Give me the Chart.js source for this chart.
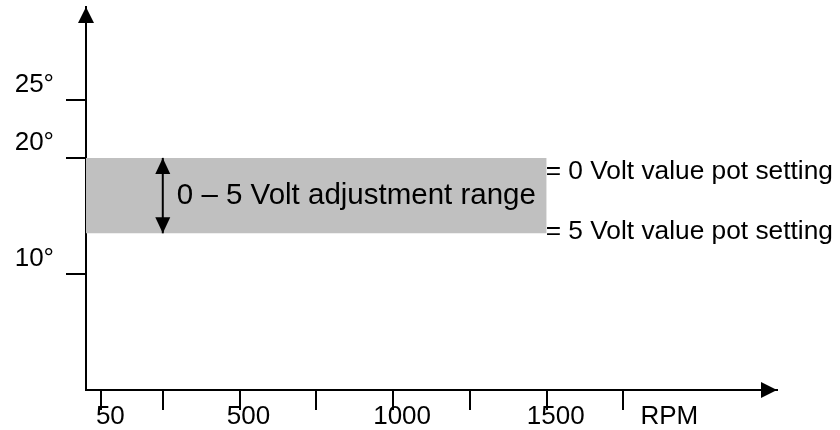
<!DOCTYPE html>
<html lang="en">
<head>
<meta charset="UTF-8">
<title>0 – 5 Volt adjustment range</title>
<script src="https://cdn.jsdelivr.net/npm/chart.js@4"></script>
<style>
  html, body { margin: 0; padding: 0; background: #fff; }
  #wrap { width: 840px; height: 430px; position: relative; }
</style>
</head>
<body>
<div id="wrap"><canvas id="chart"></canvas></div>
<script>
// x axis (RPM)
const xTicks = [50, 250, 500, 750, 1000, 1250, 1500, 1750];
const xTickLabels = ['50', '', '500', '', '1000', '', '1500', ''];
const xUnit = 'RPM';
const xUnitAt = 1870;
const xMax = 2250;

// y axis (degrees)
const yTicks = [10, 20, 25];
const yTickLabels = ['10°', '20°', '25°'];
const yMax = 33;

// grey band = adjustment range
const bandRpm = [0, 1500];
const bandTop = [20, 20];
const bandBottom = [13.5, 13.5];

// double arrow inside the band
const arrowRpm = [250, 250];
const arrowDeg = [20, 13.5];

const bandLabel = '0 – 5 Volt adjustment range';
const topLabel = '= 0 Volt value pot setting';
const bottomLabel = '= 5 Volt value pot setting';

const FONT = "'Liberation Sans', Arial, sans-serif";

// filled triangle, tip at (tx, ty), pointing along (dx, dy)
function tri(ctx, tx, ty, dx, dy, len, half) {
    const bx = tx - dx * len, by = ty - dy * len;
    ctx.beginPath();
    ctx.moveTo(tx, ty);
    ctx.lineTo(bx - dy * half, by + dx * half);
    ctx.lineTo(bx + dy * half, by - dx * half);
    ctx.closePath();
    ctx.fill();
}

const decor = {
    id: 'decor',
    afterDatasetsDraw(chart) {
        const { ctx, scales: { x, y } } = chart;
        const pts = chart.getDatasetMeta(2).data;
        const p0 = pts[0], p1 = pts[pts.length - 1];
        ctx.save();
        ctx.fillStyle = '#000';
        tri(ctx, p0.x, p0.y, 0, -1, 16, 7.5);
        tri(ctx, p1.x, p1.y, 0, 1, 16, 7.5);

        ctx.textBaseline = 'middle';
        ctx.textAlign = 'left';
        ctx.font = '29.5px ' + FONT;
        ctx.fillText(bandLabel, p0.x + 14, (p0.y + p1.y) / 2);

        ctx.font = '26.3px ' + FONT;
        const xr = x.getPixelForValue(bandRpm[1]);
        ctx.fillText(topLabel, xr - 1, y.getPixelForValue(bandTop[1]) + 14);
        ctx.fillText(bottomLabel, xr - 1, y.getPixelForValue(bandBottom[1]) - 2);
        ctx.restore();
    },
    afterDraw(chart) {
        const { ctx, chartArea: a } = chart;
        ctx.save();
        ctx.fillStyle = '#000';
        tri(ctx, a.left, a.top, 0, -1, 16, 8);      // y arrow
        tri(ctx, a.right, a.bottom, 1, 0, 16, 8);   // x arrow
        ctx.restore();
    }
};

const axisGrid = {
    drawOnChartArea: false,
    drawTicks: true,
    tickLength: 20,
    lineWidth: 2,
    color: '#000'
};

// no extra room for overhanging labels, the layout is fixed
function noPad(s) {
    s.paddingTop = s.paddingBottom = s.paddingLeft = s.paddingRight = 0;
}

new Chart(document.getElementById('chart'), {
    type: 'line',
    data: {
        datasets: [
            {
                data: bandRpm.map((v, i) => ({ x: v, y: bandTop[i] })),
                fill: '+1',
                backgroundColor: '#c0c0c0',
                borderWidth: 0,
                pointRadius: 0,
                order: 1
            },
            {
                data: bandRpm.map((v, i) => ({ x: v, y: bandBottom[i] })),
                fill: false,
                borderWidth: 0,
                pointRadius: 0,
                order: 1
            },
            {
                data: arrowRpm.map((v, i) => ({ x: v, y: arrowDeg[i] })),
                fill: false,
                stepped: true,
                borderColor: '#000',
                borderWidth: 2,
                pointRadius: 0,
                order: 0
            }
        ]
    },
    options: {
        responsive: true,
        maintainAspectRatio: false,
        animation: false,
        layout: { padding: { top: 7, right: 63, bottom: 0, left: 0 } },
        plugins: {
            legend: { display: false },
            tooltip: { enabled: false }
        },
        scales: {
            x: {
                type: 'linear',
                min: 0,
                max: xMax,
                z: 1,
                afterBuildTicks: s => {
                    s.ticks = xTicks.map(v => ({ value: v })).concat([{ value: xUnitAt }]);
                },
                afterFit: s => { s.height = 40; noPad(s); },
                border: { display: true, color: '#000', width: 2 },
                grid: Object.assign({}, axisGrid, {
                    tickColor: c => c.index < xTicks.length ? '#000' : 'rgba(0,0,0,0)'
                }),
                ticks: {
                    autoSkip: false,
                    maxRotation: 0,
                    padding: -9,
                    labelOffset: 9,
                    color: '#000',
                    font: { family: FONT, size: 26 },
                    callback: (v, i) => i < xTickLabels.length ? xTickLabels[i] : xUnit
                }
            },
            y: {
                type: 'linear',
                min: 0,
                max: yMax,
                z: 1,
                afterBuildTicks: s => {
                    s.ticks = yTicks.map(v => ({ value: v }));
                },
                afterFit: s => { s.width = 86; noPad(s); },
                border: { display: true, color: '#000', width: 2 },
                grid: Object.assign({}, axisGrid, { tickColor: '#000' }),
                ticks: {
                    autoSkip: false,
                    padding: 12,
                    labelOffset: -15,
                    color: '#000',
                    font: { family: FONT, size: 26 },
                    callback: (v, i) => yTickLabels[i]
                }
            }
        }
    },
    plugins: [decor]
});
</script>
</body>
</html>
